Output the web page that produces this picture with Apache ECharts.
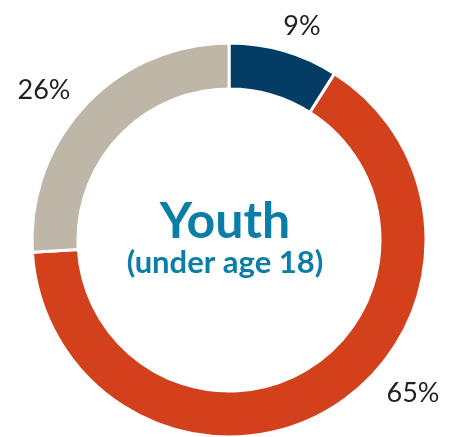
<!DOCTYPE html>
<html>
<head>
<meta charset="utf-8">
<script src="https://cdn.jsdelivr.net/npm/echarts@6/dist/echarts.min.js"></script>
<style>
  html, body { margin: 0; padding: 0; background: #ffffff; }
  #chart { width: 450px; height: 437px; }
</style>
</head>
<body>
<div id="chart"></div>
<script>
// Share of youth (under age 18), in percent
const categories = ['Group A', 'Group B', 'Group C'];
const shares = [9, 65, 26];
const colors = ['#033c64', '#d2401c', '#beb6a6'];

const titleMain = 'Youth';
const titleSub = '(under age 18)';

// Label anchor points around the ring, in data order
const labelSpots = [
  { x: 302, y: 26 },
  { x: 413, y: 393 },
  { x: 44, y: 90 }
];

const chart = echarts.init(document.getElementById('chart'), null, { renderer: 'canvas' });

chart.setOption({
  animation: false,
  backgroundColor: '#ffffff',
  graphic: [
    {
      type: 'text',
      left: 'center',
      top: 197,
      style: {
        text: titleMain,
        font: 'bold 50px Lato',
        fill: '#0a7ea7',
        textAlign: 'center'
      }
    },
    {
      type: 'text',
      top: 247,
      left: 'center',
      style: {
        text: titleSub,
        font: 'bold 31px Lato',
        fill: '#0a7ea7',
        textAlign: 'center'
      }
    }
  ],
  series: [
    {
      type: 'pie',
      center: [229, 240],
      radius: [151, 197],
      startAngle: 90,
      clockwise: true,
      itemStyle: { borderColor: '#ffffff', borderWidth: 3 },
      label: {
        show: true,
        position: 'outside',
        formatter: '{c}%',
        fontFamily: 'Lato',
        fontWeight: 400,
        fontSize: 27,
        color: '#222222',
        overflow: 'none',
        width: 80
      },
      labelLine: { show: false },
      labelLayout: function (p) {
        const s = labelSpots[p.dataIndex];
        return { x: s.x, y: s.y, align: 'center', verticalAlign: 'middle' };
      },
      data: categories.map((name, i) => ({
        name: name,
        value: shares[i],
        itemStyle: { color: colors[i] }
      }))
    }
  ]
});
</script>
</body>
</html>
